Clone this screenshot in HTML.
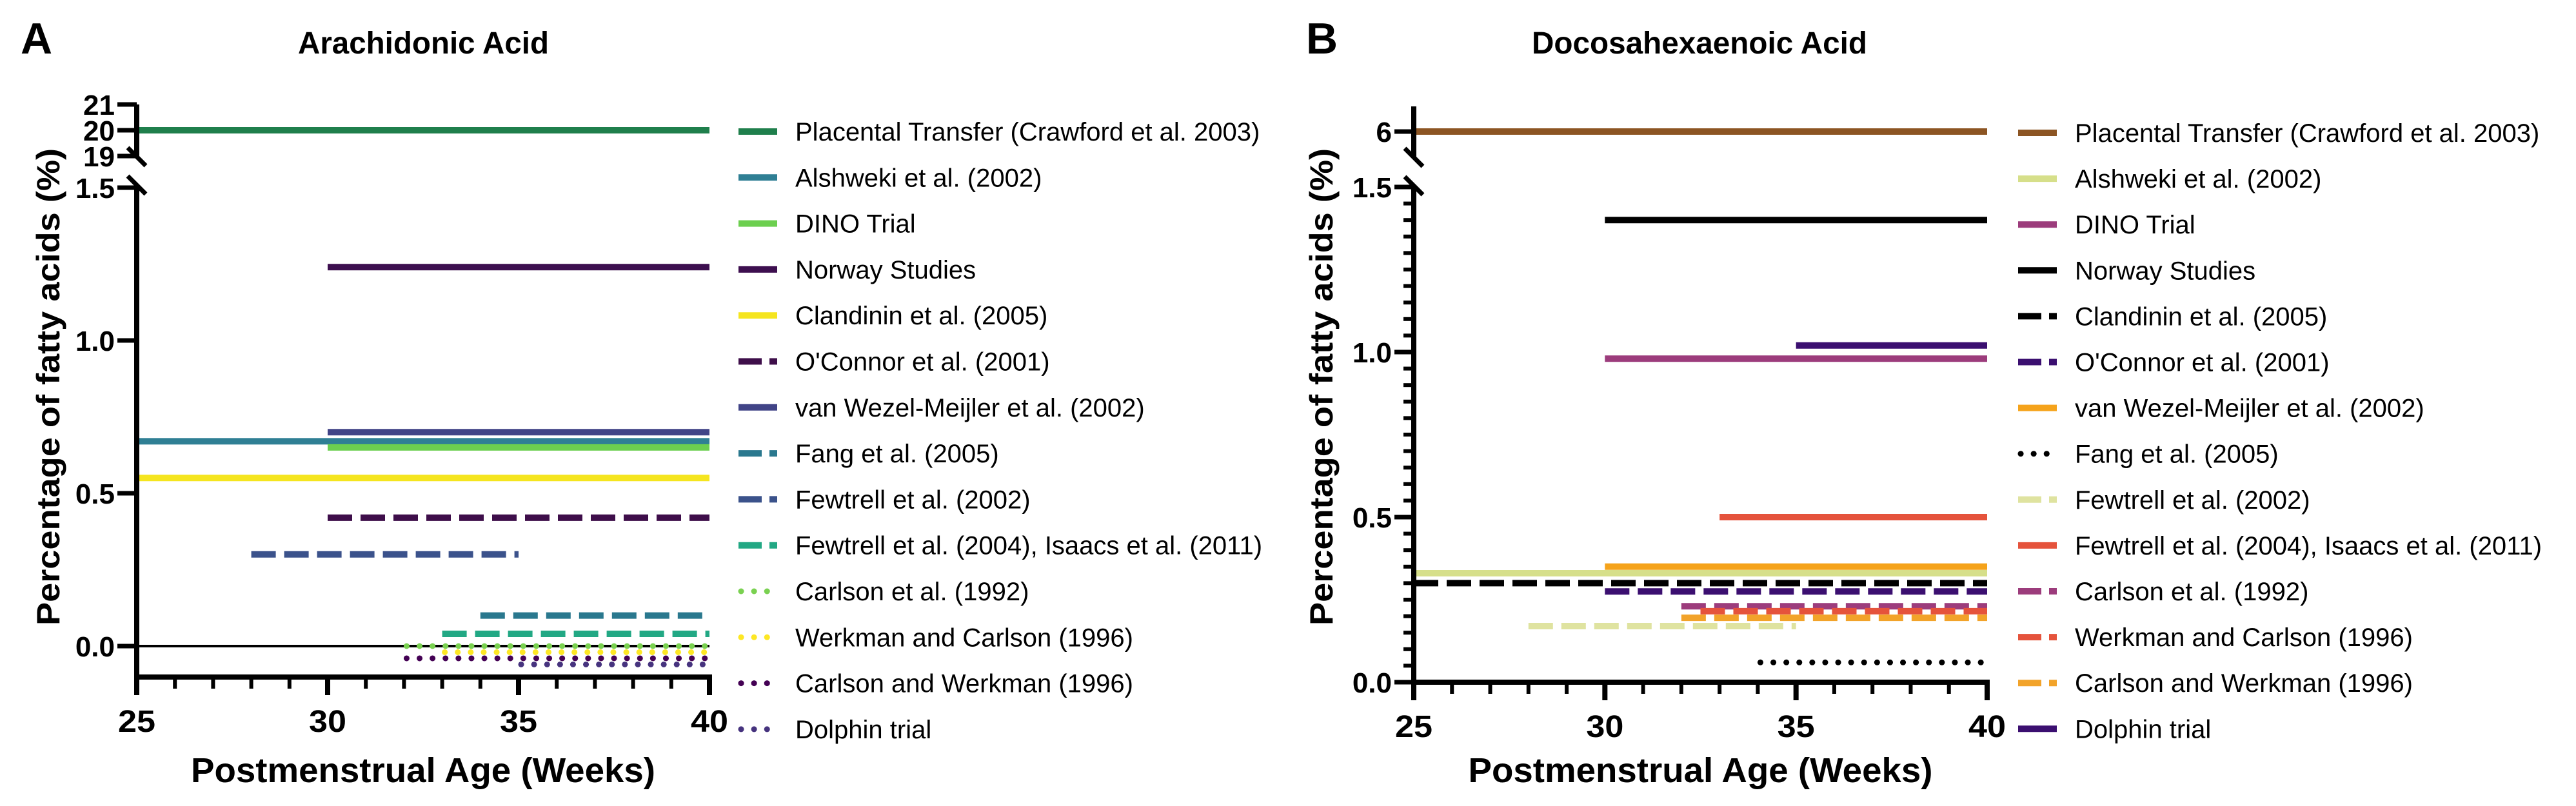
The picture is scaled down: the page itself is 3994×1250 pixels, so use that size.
<!DOCTYPE html>
<html><head><meta charset="utf-8"><style>
html,body{margin:0;padding:0;background:#fff;}
svg{display:block;font-family:"Liberation Sans",Arial,sans-serif;}
</style></head><body>
<svg id="fig" width="3994" height="1250" viewBox="0 0 3994 1250" xmlns="http://www.w3.org/2000/svg"></svg>
<script>
// ---- Panel A data ----
const aLabels = ["Placental Transfer (Crawford et al. 2003)","Alshweki et al. (2002)","DINO Trial","Norway Studies","Clandinin et al. (2005)","O'Connor et al. (2001)","van Wezel-Meijler et al. (2002)","Fang et al. (2005)","Fewtrell et al. (2002)","Fewtrell et al. (2004), Isaacs et al. (2011)","Carlson et al. (1992)","Werkman and Carlson (1996)","Carlson and Werkman (1996)","Dolphin trial"];
const aStart = [25,25,30,30,25,30,30,34,28,33,32,33,32,35];
const aEnd   = [40,40,40,40,40,40,40,40,35,40,40,40,40,40];
const aValue = [20,0.67,0.65,1.24,0.55,0.42,0.70,0.10,0.30,0.04,0.0,-0.02,-0.04,-0.06];
const aColors = ["#1f7f4c","#2f7f94","#6ccf4f","#3d0f4f","#f5e51f","#3e0e4a","#414487","#2a788e","#3b528b","#22a884","#7ad151","#fde725","#440154","#46337e"];
const aStyles = ["s","s","s","s","s","d","s","d","d","d","o","o","o","o"];
// ---- Panel B data ----
const bLabels = aLabels;
const bStart = [25,25,30,30,25,30,30,34,28,33,32,32.5,32,35];
const bEnd   = [40,40,40,40,40,40,40,40,35,40,40,40,40,40];
const bValue = [6,0.33,0.98,1.40,0.30,0.275,0.35,0.06,0.17,0.50,0.23,0.215,0.195,1.02];
const bColors = ["#8c5523","#d6df8a","#9c3c7c","#000000","#000000","#3b0f70","#f5a31b","#000000","#dfe3a0","#e5533c","#9c3c7c","#e5533c","#f2a32a","#3b0f70"];
const bStyles = ["s","s","s","s","d","d","s","o","d","s","d","d","d","s"];
const xTicks = [25,30,35,40];

const NS="http://www.w3.org/2000/svg";
const svg=document.getElementById('fig');
function mk(tag,attrs,parent){const e=document.createElementNS(NS,tag);for(const k in attrs)e.setAttribute(k,attrs[k]);(parent||svg).appendChild(e);return e;}
function txt(s,attrs,parent){const e=mk('text',attrs,parent);e.textContent=s;return e;}
function dashFor(st){return st==='d'?'38 13':(st==='o'?'0.1 20':'none');}

function panel(cfg){
  const g=mk('g',{});
  
  
  const X=v=>cfg.x0+(v-25)*(cfg.x1-cfg.x0)/15;
  const Y=v=>v>cfg.breakAt?cfg.topY(v):cfg.y0-v*cfg.ppu;
  const L=txt(cfg.letter,{x:cfg.letterX,y:83,'font-size':68,'font-weight':'bold'},g);
  
  const T=txt(cfg.title,{x:cfg.titleX,y:83,'font-size':48,'font-weight':'bold',textLength:cfg.titleW,lengthAdjust:'spacingAndGlyphs'},g);
  
  if(cfg.zeroLine){const z=mk('line',{x1:X(25),x2:X(40),y1:Y(0),y2:Y(0),stroke:'#000','stroke-width':4},g);
    }
  const lg=mk('g',{},g);
  for(let i=0;i<cfg.labels.length;i++){
    const st=cfg.styles[i];
    const l=mk('line',{x1:X(cfg.start[i])+(st==='o'?4:0),x2:X(cfg.end[i])-(st==='o'?4:0),y1:Y(cfg.value[i]),y2:Y(cfg.value[i]),stroke:cfg.colors[i],'stroke-width':st==='o'?9:10,'stroke-linecap':st==='o'?'round':'butt','stroke-dasharray':dashFor(st)},lg);
    
    
  }
  const ax=mk('g',{stroke:'#000','stroke-width':8,fill:'none'},g);
  
  mk('line',{x1:cfg.x0,x2:cfg.x0,y1:cfg.axTop,y2:cfg.brkTop},ax);
  mk('line',{x1:cfg.x0,x2:cfg.x0,y1:cfg.brkBot,y2:cfg.axBot+4},ax);
  mk('line',{x1:cfg.x0-14,x2:cfg.x0+14,y1:cfg.brkTop-14,y2:cfg.brkTop+14,'stroke-width':7},ax);
  mk('line',{x1:cfg.x0-14,x2:cfg.x0+14,y1:cfg.brkBot-14,y2:cfg.brkBot+14,'stroke-width':7},ax);
  mk('line',{x1:cfg.x0-4,x2:X(40)+4,y1:cfg.axBot,y2:cfg.axBot},ax);
  for(let w=25;w<=40;w++){const maj=(w%5===0);mk('line',{x1:X(w),x2:X(w),y1:cfg.axBot,y2:cfg.axBot+(maj?28:18),'stroke-width':maj?8:6},ax);}
  for(const t of xTicks){const e=txt(String(t),{x:X(t),y:cfg.axBot+85,'font-size':48,'font-weight':'bold','text-anchor':'middle',textLength:58,lengthAdjust:'spacingAndGlyphs'},g);
    }
  for(const t of cfg.yTicks){const y=Y(t.v);mk('line',{x1:cfg.x0-30,x2:cfg.x0,y1:y,y2:y,'stroke-width':7},ax);
    const e=txt(t.s,{x:cfg.x0-34,y:y+16,'font-size':44,'font-weight':'bold','text-anchor':'end'},g);
    }
  if(cfg.minor){for(let v=0.05;v<1.5;v+=0.05){if(Math.abs(v*2-Math.round(v*2))<0.01)continue;const y=Y(v);mk('line',{x1:cfg.x0-16,x2:cfg.x0,y1:y,y2:y,'stroke-width':6},ax);}}
  const xt=txt('Postmenstrual Age (Weeks)',{x:(cfg.x0+X(40))/2,y:1213,'font-size':54,'font-weight':'bold','text-anchor':'middle',textLength:cfg.xtW,lengthAdjust:'spacingAndGlyphs'},g);
  
  const yt=txt('Percentage of fatty acids (%)',{x:0,y:0,'font-size':50,'font-weight':'bold','text-anchor':'middle',transform:`translate(${cfg.ytX},600) rotate(-90)`,textLength:740,lengthAdjust:'spacingAndGlyphs'},g);
  
  const leg=mk('g',{},g);
  for(let i=0;i<cfg.labels.length;i++){
    const y=cfg.legY0+i*cfg.legDy;const st=cfg.styles[i];
    const e=mk('g',{},leg);
    
    
    mk('line',{x1:cfg.legX+(st==='o'?4:0),x2:cfg.legX+60,y1:y,y2:y,stroke:cfg.colors[i],'stroke-width':st==='o'?9:10,'stroke-linecap':st==='o'?'round':'butt','stroke-dasharray':st==='d'?'36 12':(st==='o'?'0.1 20':'none')},e);
    txt(cfg.labels[i],{x:cfg.legX+88,y:y+14,'font-size':40},e);
  }
}

panel({name:'panel-a-arachidonic',letter:'A',letterX:32,title:'Arachidonic Acid',titleX:462,titleW:389,
  x0:212,x1:1100,y0:1002,ppu:474,breakAt:5,topY:v=>202-(v-20)*40,
  axTop:162,brkTop:243,brkBot:287,axBot:1050,zeroLine:true,minor:false,
  yTicks:[{v:21,s:'21'},{v:20,s:'20'},{v:19,s:'19'},{v:1.5,s:'1.5'},{v:1.0,s:'1.0'},{v:0.5,s:'0.5'},{v:0.0,s:'0.0'}],
  labels:aLabels,start:aStart,end:aEnd,value:aValue,colors:aColors,styles:aStyles,
  legX:1145,legY0:204,legDy:71.3,ytX:92,xtW:720});
panel({name:'panel-b-docosahexaenoic',letter:'B',letterX:2025,title:'Docosahexaenoic Acid',titleX:2375,titleW:520,
  x0:2192,x1:3081,y0:1058,ppu:512,breakAt:3,topY:v=>204-(v-6)*40,
  axTop:165,brkTop:244,brkBot:288,axBot:1058,zeroLine:false,minor:true,
  yTicks:[{v:6,s:'6'},{v:1.5,s:'1.5'},{v:1.0,s:'1.0'},{v:0.5,s:'0.5'},{v:0.0,s:'0.0'}],
  labels:bLabels,start:bStart,end:bEnd,value:bValue,colors:bColors,styles:bStyles,
  legX:3129,legY0:206,legDy:71.1,ytX:2066,xtW:720});
</script>
</body></html>
